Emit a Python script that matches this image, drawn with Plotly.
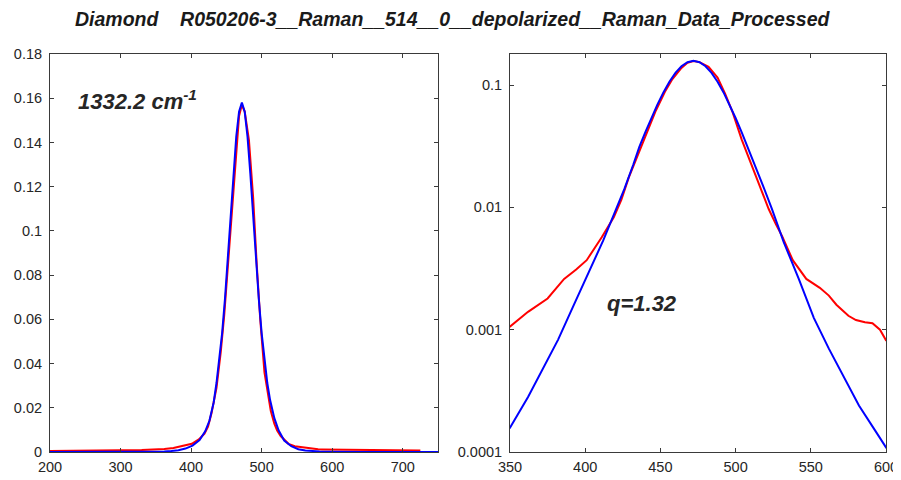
import plotly.graph_objects as go

# ---- data ----
title_text = "Diamond\u00a0\u00a0\u00a0\u00a0R050206-3__Raman__514__0__depolarized__Raman_Data_Processed"
peak_label = "1332.2 cm<sup>-1</sup>"
q_label = "q=1.32"

data_x = [200, 240, 296, 298, 330, 350, 362, 375, 386, 394, 401, 411, 419, 424, 429,
          436, 442, 447, 453, 458, 464, 468, 472, 476, 482, 488, 493, 498, 504, 509,
          513, 518, 522, 527, 531, 538, 547, 556, 562, 567, 575, 580, 586, 591, 596,
          600, 620, 660, 700, 725]
data_y = [0.00045, 0.00048, 0.0005, 0.00078, 0.00088, 0.00106, 0.0014, 0.0018, 0.0026,
          0.0031, 0.0037, 0.0057, 0.0083, 0.0115, 0.0176, 0.029, 0.045, 0.062, 0.088,
          0.112, 0.138, 0.152, 0.157, 0.154, 0.141, 0.115, 0.085, 0.060, 0.036, 0.025,
          0.0185, 0.0128, 0.0097, 0.0072, 0.0058, 0.0037, 0.0026, 0.0022, 0.0019, 0.0016,
          0.0013, 0.0012, 0.00115, 0.00113, 0.00100, 0.00082, 0.00078, 0.00075, 0.00072,
          0.0007]

fit_x = [200, 250, 302, 332, 350, 362, 372, 382, 392, 402, 412, 420, 426, 432, 436,
         440, 444, 448, 452, 456, 460, 464, 468, 472, 476, 480, 484, 488, 492, 496,
         500, 504, 508, 512, 518, 524, 532, 542, 552, 562, 572, 582, 594, 600, 612,
         642, 692, 750]
fit_y = [2.5e-6, 5.7e-6, 2.6e-5, 8.1e-5, 0.000158, 0.000282, 0.000479, 0.00083, 0.00155,
         0.0029, 0.00537, 0.00933, 0.0141, 0.0224, 0.0312, 0.0412, 0.0538, 0.0692,
         0.0871, 0.1066, 0.1258, 0.1425, 0.1539, 0.158, 0.1539, 0.1425, 0.1258, 0.1066,
         0.0871, 0.0692, 0.0538, 0.0412, 0.0312, 0.0235, 0.0153, 0.0098, 0.0052, 0.0026,
         0.00125, 0.00070, 0.000405, 0.00024, 0.000142, 0.000109, 7.0e-5, 2.4e-5,
         5.5e-6, 2.2e-6]

left_xticks = [200, 300, 400, 500, 600, 700]
left_yticks = [0, 0.02, 0.04, 0.06, 0.08, 0.1, 0.12, 0.14, 0.16, 0.18]
right_xticks = [350, 400, 450, 500, 550, 600]
right_yticks = [0.0001, 0.001, 0.01, 0.1]
right_yticktext = ["0.0001", "0.001", "0.01", "0.1"]

RED = "#ff0000"
BLUE = "#0000ff"
TXT = "#262626"
FONT = "Arial, Liberation Sans, sans-serif"

# the page body has an 8px margin: figure is 893x472, positions are page px - 8
W, H = 893, 472
OFF = 8


def px(x):
    return (x - OFF) / W


def py(y):
    return 1 - (y - OFF) / H


fig = go.Figure()
fig.add_trace(go.Scatter(x=data_x, y=data_y, mode="lines",
                         line=dict(color=RED, width=2), xaxis="x", yaxis="y"))
fig.add_trace(go.Scatter(x=fit_x, y=fit_y, mode="lines",
                         line=dict(color=BLUE, width=2), xaxis="x", yaxis="y"))
fig.add_trace(go.Scatter(x=data_x, y=data_y, mode="lines",
                         line=dict(color=RED, width=2), xaxis="x2", yaxis="y2"))
fig.add_trace(go.Scatter(x=fit_x, y=fit_y, mode="lines",
                         line=dict(color=BLUE, width=2), xaxis="x2", yaxis="y2"))

axis_common = dict(showline=True, linecolor="#3a3a3a", linewidth=1, mirror="ticks",
                   ticks="inside", ticklen=4, tickcolor="#3a3a3a", showgrid=False,
                   zeroline=False, automargin=False,
                   tickfont=dict(family=FONT, size=14.5, color=TXT))

ydom = [py(452), py(54)]
fig.update_layout(
    width=W, height=H,
    margin=dict(l=0, r=0, t=0, b=0, pad=0, autoexpand=False),
    paper_bgcolor="white", plot_bgcolor="white",
    showlegend=False,
    xaxis=dict(domain=[px(50), px(438)], range=[200, 750], tickvals=left_xticks,
               anchor="y", ticklabelstandoff=2, **axis_common),
    yaxis=dict(domain=ydom, range=[0, 0.18], tickvals=left_yticks, anchor="x",
               ticklabelstandoff=4, **axis_common),
    xaxis2=dict(domain=[px(510), px(886)], range=[350, 600], tickvals=right_xticks,
                anchor="y2", ticklabelstandoff=2, **axis_common),
    yaxis2=dict(domain=ydom, type="log", range=[-4, -0.746], tickvals=right_yticks,
                ticktext=right_yticktext, anchor="x2", ticklabelstandoff=4,
                **axis_common),
    annotations=[
        dict(text="<b><i>" + title_text + "</i></b>", xref="paper", yref="paper",
             x=px(452), y=py(19), xanchor="center", yanchor="middle",
             showarrow=False, font=dict(family=FONT, size=19.5, color="#1a1a1a")),
        dict(text="<b><i>" + peak_label + "</i></b>", xref="paper", yref="paper",
             x=px(76), y=py(100), xanchor="left", yanchor="middle",
             showarrow=False, font=dict(family=FONT, size=22, color=TXT)),
        dict(text="<b><i>" + q_label + "</i></b>", xref="paper", yref="paper",
             x=px(642), y=py(303), xanchor="center", yanchor="middle",
             showarrow=False, font=dict(family=FONT, size=22, color=TXT)),
    ],
)

fig.write_html("out.html")
